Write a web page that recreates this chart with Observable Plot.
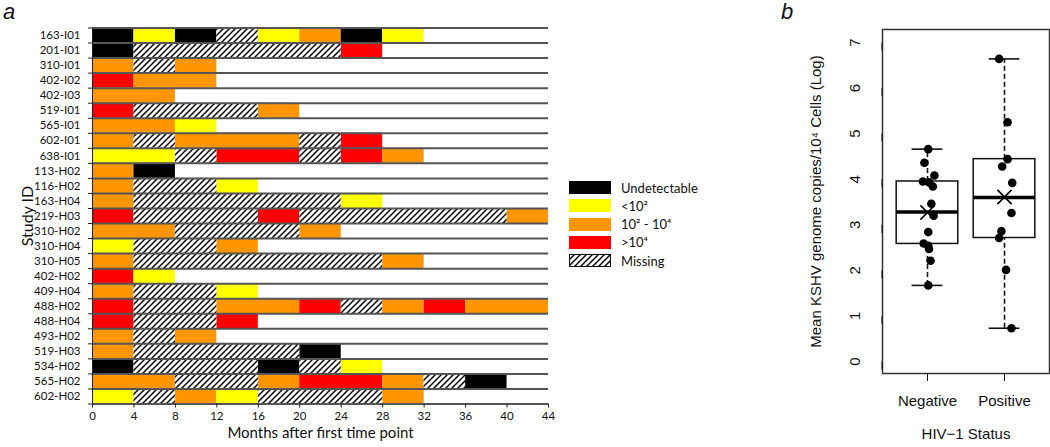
<!DOCTYPE html>
<html><head><meta charset="utf-8">
<script src="https://cdn.jsdelivr.net/npm/d3@7"></script>
<script src="https://cdn.jsdelivr.net/npm/@observablehq/plot@0.6"></script>
<style>
body{margin:0;background:#fff;width:1050px;height:447px;overflow:hidden;position:relative;font-family:Lato,sans-serif;color:#111}
#a{position:absolute;left:0;top:0}
#b{position:absolute;left:760px;top:0}
.tag{position:absolute;font-family:"Liberation Sans",Arial,sans-serif;font-style:italic;font-size:22px;line-height:22px}
#legend{position:absolute;left:569px;top:181px;display:flex;flex-direction:column;gap:5.3px}
.item{display:flex;align-items:center;height:13px;font-size:13px;font-family:Lato,sans-serif}
.sw{width:42px;height:13px;margin-right:10px;box-sizing:border-box}
</style></head><body>
<div id="a"></div><div id="b"></div>
<div class="tag" style="left:3px;top:1px">a</div>
<div class="tag" style="left:781px;top:1px">b</div>
<div id="legend"></div>
<script>
// ---------- Panel a data ----------
const studyIds = ["163-I01","201-I01","310-I01","402-I02","402-I03","519-I01","565-I01","602-I01","638-I01",
  "113-H02","116-H02","163-H04","219-H03","310-H02","310-H04","310-H05","402-H02","409-H04","488-H02",
  "488-H04","493-H02","519-H03","534-H02","565-H02","602-H02"];
// one status code per consecutive 4-month interval
const statusByInterval = ["ULUXLMUL","UXXXXXH","MXM","HMM","MM","HXXXM","MML","MXMMMXH","LLXHHXHM",
  "MU","MXXL","MXXXXXL","HXXXHXXXXXM","MMXXXM","LXXM","MXXXXXXM","HL","MXXL","HXXMMHXMHMM",
  "HXXH","MXM","MXXXXU","UXXXUXL","MMXXMHHMXU","LXMLXXXM"];
const intervalMonths = 4;
const statusCodes = ["U","L","M","H","X"];
const statusLabels = ["Undetectable","<10²","10² - 10⁴",">10⁴","Missing"];
const statusColors = ["#000000","#ffff00","#ff9600","#ff0000"];
const monthTicks = [0,4,8,12,16,20,24,28,32,36,40,44];

// ---------- Panel b data ----------
const hivGroups = ["Negative","Positive"];
const negativeValues = [4.66,4.36,4.08,3.95,3.93,3.84,3.46,3.20,2.84,2.59,2.54,2.47,2.21,1.67];
const negativeJitter = [0.01,-0.04,0.09,-0.06,0.02,0.07,0.05,0.08,0.01,-0.05,0.01,0.02,0.04,0.01];
const positiveValues = [6.64,5.25,4.44,4.28,3.92,3.26,2.86,2.71,2.01,0.73];
const positiveJitter = [-0.07,0.04,0.04,-0.03,0.10,0.09,-0.04,-0.07,0.02,0.09];
const boxQ1 = [2.58,2.71];
const boxMedian = [3.28,3.60];
const boxQ3 = [3.95,4.44];
const whiskerLow = [1.67,0.73];
const whiskerHigh = [4.66,6.64];
const groupMeans = [3.27,3.61];
const logTicks = [0,1,2,3,4,5,6,7];

// ---------- build panel a ----------
const cells = [];
statusByInterval.forEach((codes,row)=>{
  let s = 0;
  for (let j=1;j<=codes.length;j++){
    if (j===codes.length || codes[j]!==codes[s]){
      cells.push({row, status: codes[s], m1: s*intervalMonths, m2: j*intervalMonths});
      s = j;
    }
  }
});
const nRows = studyIds.length;
const pa = Plot.plot({
  width: 560, height: 447,
  marginLeft: 92, marginRight: 12, marginTop: 27.5, marginBottom: 43.5,
  x: {domain: [0, 44]},
  y: {domain: [0, nRows], reverse: true},
  color: {domain: statusCodes.slice(0,4), range: statusColors},
  style: {fontFamily: "Lato, sans-serif", fontSize: "11.5px", color: "#111", background: "transparent"},
  marks: [
    Plot.rect(cells.filter(d=>d.status!=="X"), {x1:"m1", x2:"m2", y1:"row", y2:d=>d.row+1, fill:"status"}),
    Plot.rect(cells.filter(d=>d.status==="X"), {x1:"m1", x2:"m2", y1:"row", y2:d=>d.row+1, fill:"url(#hatch)"}),
    Plot.ruleY(d3.range(nRows+1), {stroke:"#555", strokeWidth:2}),
    Plot.ruleX([0], {y1:0, y2:nRows, stroke:"#222", strokeWidth:1}),
    Plot.axisY({ticks: d3.range(nRows+1), tickSize:4, tickFormat: ()=>"", stroke:"#222", label:null}),
    Plot.axisY({ticks: d3.range(nRows).map(i=>i+0.5), tickFormat: v=>studyIds[Math.floor(v)], tickSize:0, tickPadding:12, label:null}),
    Plot.axisX({ticks: monthTicks, tickSize:4, tickPadding:4, label:null, fontSize:11.5, stroke:"#222"}),
    Plot.text(["Study ID"], {frameAnchor:"left", dx:-65, rotate:-90, textAnchor:"middle", fontSize:16}),
    Plot.text(["Months after first time point"], {frameAnchor:"bottom", dy:34, textAnchor:"middle", fontSize:15})
  ]
});
const defsA = d3.select(pa).insert("defs", ":first-child");
function hatch(defs, id){
  const p = defs.append("pattern").attr("id", id).attr("patternUnits","userSpaceOnUse").attr("width",6).attr("height",6);
  p.append("rect").attr("width",6).attr("height",6).attr("fill","white");
  p.append("path").attr("d","M-1,1 L1,-1 M0,6 L6,0 M5,7 L7,5").attr("stroke","black").attr("stroke-width",1.5);
}
hatch(defsA, "hatch");
document.getElementById("a").appendChild(pa);

// legend
const leg = d3.select("#legend");
statusCodes.forEach((c,i)=>{
  const it = leg.append("div").attr("class","item");
  if (c==="X"){
    const svg = it.append("svg").attr("width",42).attr("height",13).style("margin-right","10px");
    hatch(svg.append("defs"), "hatchLegend");
    svg.append("rect").attr("x",0.5).attr("y",0.5).attr("width",41).attr("height",12).attr("fill","url(#hatchLegend)").attr("stroke","#111");
  } else {
    it.append("div").attr("class","sw").style("background", statusColors[i]);
  }
  it.append("span").text(statusLabels[i]);
});

// ---------- build panel b ----------
const points = [
  ...negativeValues.map((v,i)=>({x: 1 + negativeJitter[i], y: v})),
  ...positiveValues.map((v,i)=>({x: 2 + positiveJitter[i], y: v}))
];
const boxes = hivGroups.map((g,i)=>({pos:i+1, q1:boxQ1[i], med:boxMedian[i], q3:boxQ3[i], lo:whiskerLow[i], hi:whiskerHigh[i], mean:groupMeans[i]}));
const pb = Plot.plot({
  width: 290, height: 447,
  marginLeft: 122, marginRight: 1, marginTop: 29, marginBottom: 74,
  x: {domain: [0.416, 2.584]},
  y: {domain: [-0.263, 7.285]},
  style: {fontFamily: "'Liberation Sans', Arial, sans-serif", fontSize: "15px", color: "#111", background: "transparent"},
  marks: [
    Plot.frame({stroke:"#333", strokeWidth:1.5}),
    Plot.axisY({ticks: logTicks, tickSize:8, tickPadding:19, rotate:-90, textAnchor:"middle", label:null}),
    Plot.axisX({ticks: [1,2], tickFormat: v=>hivGroups[v-1], tickSize:8, tickPadding:14, label:null}),
    Plot.ruleX(boxes, {x:"pos", y1:"q3", y2:"hi", stroke:"#111", strokeWidth:1.6, strokeDasharray:"5,3"}),
    Plot.ruleX(boxes, {x:"pos", y1:"lo", y2:"q1", stroke:"#111", strokeWidth:1.6, strokeDasharray:"5,3"}),
    Plot.ruleY(boxes, {y:"hi", x1:d=>d.pos-0.2, x2:d=>d.pos+0.2, stroke:"#111", strokeWidth:1.6}),
    Plot.ruleY(boxes, {y:"lo", x1:d=>d.pos-0.2, x2:d=>d.pos+0.2, stroke:"#111", strokeWidth:1.6}),
    Plot.rect(boxes, {x1:d=>d.pos-0.4, x2:d=>d.pos+0.4, y1:"q1", y2:"q3", fill:"white", stroke:"#111", strokeWidth:1.5}),
    Plot.ruleY(boxes, {y:"med", x1:d=>d.pos-0.4, x2:d=>d.pos+0.4, stroke:"#000", strokeWidth:3.5}),
    Plot.dot(points, {x:"x", y:"y", r:4.3, fill:"#000", stroke:"none"}),
    Plot.dot(boxes, {x:"pos", y:"mean", symbol:"times", r:6.5, stroke:"#000", strokeWidth:1.6}),
    Plot.text(["Mean KSHV genome copies/10⁴ Cells (Log)"], {frameAnchor:"left", dx:-66, rotate:-90, textAnchor:"middle", fontSize:15}),
    Plot.text(["HIV\u22121 Status"], {frameAnchor:"bottom", dy:65, textAnchor:"middle", fontSize:15})
  ]
});
document.getElementById("b").appendChild(pb);
</script>
</body></html>
